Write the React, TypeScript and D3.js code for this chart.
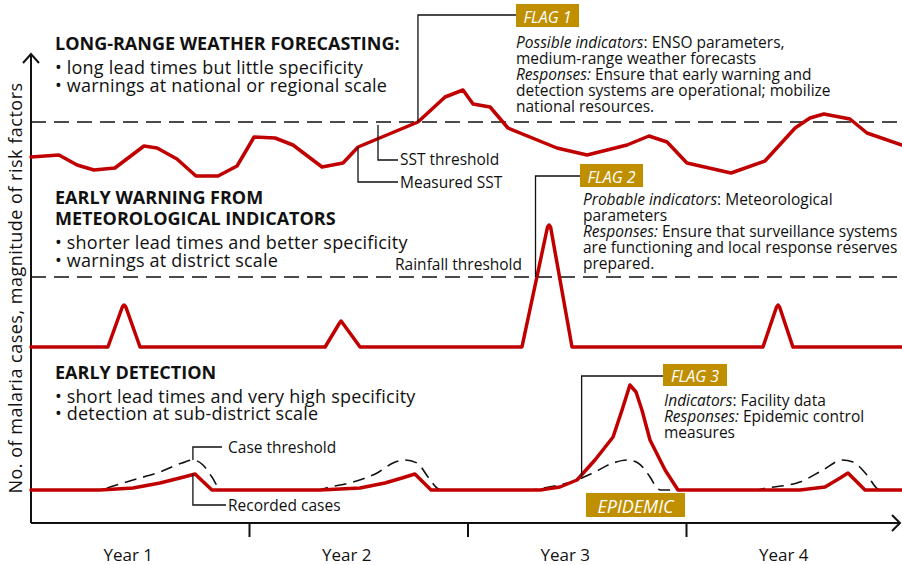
import { scaleLinear, line, curveLinear, curveMonotoneX } from 'd3';

// x in years (0..4), y in arbitrary magnitude units
const years = ['Year 1', 'Year 2', 'Year 3', 'Year 4'];
const yearTicks = [1, 2, 3];

const measuredSST: [number, number][] = [
  [0, 91.5], [0.128, 92], [0.211, 89.5], [0.288, 88.25], [0.384, 88.75],
  [0.517, 94.25], [0.577, 93.75], [0.668, 91], [0.755, 86.75], [0.856, 86.75],
  [0.943, 89.25], [1.021, 96.5], [1.117, 96.25], [1.199, 94.5], [1.332, 89],
  [1.428, 90], [1.497, 94], [1.771, 100.25], [1.895, 106.5], [1.977, 108.25],
  [2.023, 104.75], [2.101, 104], [2.183, 98.75], [2.407, 93.75], [2.545, 92],
  [2.728, 94.5], [2.828, 96.75], [2.911, 95.25], [3.002, 90], [3.204, 87.5],
  [3.359, 90.5], [3.497, 98.75], [3.565, 101.25], [3.629, 102.25], [3.748, 101],
  [3.826, 97.5], [3.986, 94.5],
];
const sstThreshold = 100.25;

const rainfall: [number, number][] = [
  [0, 44], [0.352, 44], [0.418, 54], [0.426, 54.5], [0.434, 54], [0.499, 44],
  [1.346, 44], [1.412, 50], [1.419, 50.5], [1.426, 50], [1.506, 44],
  [2.247, 44], [2.364, 74], [2.371, 74.5], [2.378, 74], [2.476, 44],
  [3.35, 44], [3.412, 54], [3.419, 54.5], [3.426, 54], [3.487, 44],
  [3.986, 44],
];
const rainfallThreshold = 61.5;

const recordedCases: [number, number][] = [
  [0, 8.25], [0.316, 8.25], [0.467, 8.75], [0.59, 10], [0.682, 11.25], [0.751, 12.25], [0.828, 8.25],
  [1.323, 8.25], [1.506, 8.75], [1.62, 10], [1.698, 11.25], [1.757, 12.25], [1.831, 8.25],
  [2.33, 8.25], [2.421, 9], [2.499, 10.75], [2.581, 15.75], [2.664, 21.5], [2.705, 28.25],
  [2.741, 34.5], [2.769, 32.75], [2.796, 28.25], [2.833, 20.75], [2.902, 13.25], [2.961, 8.25],
  [3.519, 8.25], [3.634, 9], [3.703, 11.25], [3.739, 12.5], [3.817, 8.25],
  [3.986, 8.25],
];

const caseThreshold: [number, number][] = [
  [0, 8.25], [0.316, 8.25], [0.362, 9], [0.467, 10.75], [0.59, 12.75], [0.691, 15], [0.741, 15.75],
  [0.787, 14.5], [0.828, 11.5], [0.865, 8.5], [0.883, 8.25],
  [1.309, 8.25], [1.368, 9], [1.474, 10.25], [1.584, 12.5], [1.657, 15], [1.712, 15.75],
  [1.767, 15], [1.817, 11.5], [1.858, 8.75], [1.876, 8.25],
  [2.284, 8.25], [2.343, 8.75], [2.499, 10.75], [2.572, 12.5], [2.664, 15], [2.728, 15.75],
  [2.778, 15], [2.833, 11.5], [2.865, 8.75], [2.883, 8.25],
  [3.314, 8.25], [3.368, 8.75], [3.519, 10.25], [3.625, 13.25], [3.712, 15.75], [3.762, 15.25],
  [3.826, 12], [3.876, 8.5], [3.895, 8.25],
  [3.986, 8.25],
];

const RED = '#C00000';
const GOLD = '#BF8F00';
const FONT = '"Open Sans", Lato, sans-serif';

const x = scaleLinear().domain([0, 4]).range([31, 905]);
const y = scaleLinear().domain([0, 117]).range([523, 55]);

const path = (curve = curveLinear) =>
  line<[number, number]>()
    .x((d) => x(d[0]))
    .y((d) => y(d[1]))
    .curve(curve);

function Flag({ x0, y0, w, h, label, size = 16 }: { x0: number; y0: number; w: number; h: number; label: string; size?: number }) {
  return (
    <g>
      <rect x={x0} y={y0} width={w} height={h} fill={GOLD} />
      <text x={x0 + w / 2} y={y0 + h / 2 + 1} textAnchor="middle" dominantBaseline="central"
        fill="#fff" fontStyle="italic" fontSize={size} fontFamily={FONT}>
        {label}
      </text>
    </g>
  );
}

export default function App() {
  const axisY = y(0);
  const axisX = x(0);

  // leader anchors from the data
  const flag1 = [x(1.771), y(sstThreshold)];
  const flag2 = [x(2.309), y(rainfallThreshold)];
  const flag3 = [x(2.52), y(11.5)];
  const caseAnchor = x(0.741);

  const txt = { fontFamily: FONT, fontSize: 15.5, fill: '#111' };
  const head = { fontFamily: FONT, fontSize: 18, fontWeight: 700, fill: '#111' };
  const bullet = { fontFamily: FONT, fontSize: 18, letterSpacing: 0.2, fill: '#111' };

  return (
    <svg width={902} height={565} style={{ position: 'absolute', left: 0, top: 0, background: '#fff' }}>
      {/* axes */}
      <g stroke="#111" strokeWidth={2} fill="none">
        <line x1={axisX} y1={axisY} x2={axisX} y2={54} />
        <polyline points={`${axisX - 8},63 ${axisX},54 ${axisX + 8},63`} />
        <line x1={axisX} y1={axisY} x2={900} y2={axisY} />
        <polyline points={`892,515 900,${axisY} 892,531`} />
        {yearTicks.map((t) => (
          <line key={t} x1={x(t)} x2={x(t)} y1={axisY} y2={537} />
        ))}
      </g>
      {years.map((yr, i) => (
        <text key={yr} x={x(i + 0.445)} y={554.5} textAnchor="middle" dominantBaseline="central"
          fontFamily={FONT} fontSize={17} fill="#111">{yr}</text>
      ))}
      <text transform="translate(15,288) rotate(-90)" textAnchor="middle" dominantBaseline="central"
        fontFamily={FONT} fontSize={18} letterSpacing={0.5} fill="#111">
        No. of malaria cases, magnitude of risk factors
      </text>

      {/* thresholds */}
      <g stroke="#111" strokeWidth={1.6} strokeDasharray="15 8" fill="none">
        <line x1={axisX} x2={902} y1={y(sstThreshold)} y2={y(sstThreshold)} />
        <line x1={axisX} x2={902} y1={y(rainfallThreshold)} y2={y(rainfallThreshold)} />
      </g>
      <path d={path(curveMonotoneX)(caseThreshold) ?? ''} fill="none" stroke="#111" strokeWidth={1.6}
        strokeDasharray="12 7" />

      {/* series */}
      <g fill="none" stroke={RED} strokeWidth={3.5} strokeLinejoin="round" strokeLinecap="round">
        <path d={path()(measuredSST) ?? ''} />
        <path d={path()(rainfall) ?? ''} />
        <path d={path()(recordedCases) ?? ''} />
      </g>

      {/* leader lines */}
      <g stroke="#111" strokeWidth={1.3} fill="none">
        <polyline points={`${flag1[0]},${flag1[1]} ${flag1[0]},15 516,15`} />
        <polyline points={`378,${y(99.5)} 378,160 398,160`} />
        <polyline points={`358,${y(94)} 358,182 398,182`} />
        <polyline points={`${flag2[0]},${flag2[1]} ${flag2[0]},176 580,176`} />
        <polyline points={`${flag3[0]},${flag3[1]} ${flag3[0]},376 663,376`} />
        <polyline points={`${caseAnchor},${y(15.75)} ${caseAnchor},447 222,447`} />
        <polyline points={`${caseAnchor},${y(12.25)} ${caseAnchor},505 226,505`} />
      </g>

      <text {...txt} x={400} y={159} dominantBaseline="central">SST threshold</text>
      <text {...txt} x={400} y={182} dominantBaseline="central">Measured SST</text>
      <text {...txt} x={522} y={264} textAnchor="end" dominantBaseline="central">Rainfall threshold</text>
      <text {...txt} x={228} y={447} dominantBaseline="central">Case threshold</text>
      <text {...txt} x={228} y={505} dominantBaseline="central">Recorded cases</text>

      {/* flags */}
      <Flag x0={516} y0={4} w={63} h={23} label="FLAG 1" />
      <Flag x0={580} y0={164} w={63} h={23} label="FLAG 2" />
      <Flag x0={663} y0={364} w={64} h={22} label="FLAG 3" />
      <Flag x0={586} y0={493} w={99} h={24} label="EPIDEMIC" size={18} />

      <g {...txt} dominantBaseline="central">
        <text x={516} y={42}><tspan fontStyle="italic">Possible indicators</tspan>: ENSO parameters,</text>
        <text x={516} y={58}>medium-range weather forecasts</text>
        <text x={516} y={74}><tspan fontStyle="italic">Responses:</tspan> Ensure that early warning and</text>
        <text x={516} y={90}>detection systems are operational; mobilize</text>
        <text x={516} y={106}>national resources.</text>

        <text x={583} y={199}><tspan fontStyle="italic">Probable indicators</tspan>: Meteorological</text>
        <text x={583} y={215}>parameters</text>
        <text x={583} y={231}><tspan fontStyle="italic">Responses:</tspan> Ensure that surveillance systems</text>
        <text x={583} y={247}>are functioning and local response reserves</text>
        <text x={583} y={263}>prepared.</text>

        <text x={664} y={400}><tspan fontStyle="italic">Indicators</tspan>: Facility data</text>
        <text x={664} y={416}><tspan fontStyle="italic">Responses:</tspan> Epidemic control</text>
        <text x={664} y={432}>measures</text>
      </g>

      {/* section headings */}
      <g dominantBaseline="central">
        <text {...head} x={55} y={43}>LONG-RANGE WEATHER FORECASTING:</text>
        <text {...bullet} x={55} y={67}>• long lead times but little specificity</text>
        <text {...bullet} x={55} y={85}>• warnings at national or regional scale</text>

        <text {...head} x={55} y={197}>EARLY WARNING FROM</text>
        <text {...head} x={55} y={218}>METEOROLOGICAL INDICATORS</text>
        <text {...bullet} x={55} y={242}>• shorter lead times and better specificity</text>
        <text {...bullet} x={55} y={260}>• warnings at district scale</text>

        <text {...head} x={55} y={372}>EARLY DETECTION</text>
        <text {...bullet} x={55} y={396}>• short lead times and very high specificity</text>
        <text {...bullet} x={55} y={413}>• detection at sub-district scale</text>
      </g>
    </svg>
  );
}
